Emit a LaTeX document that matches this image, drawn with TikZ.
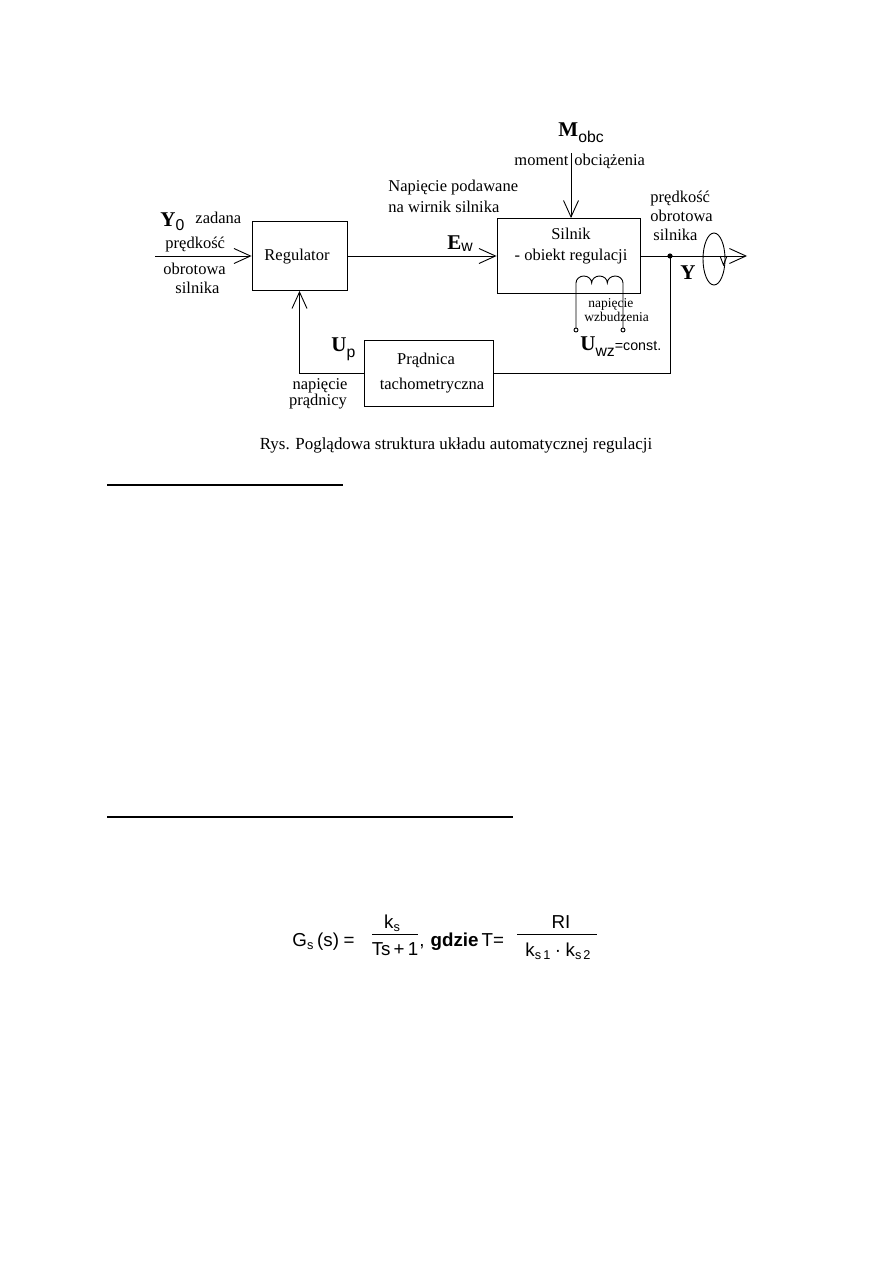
\documentclass[tikz,border=0pt]{standalone}
\usepackage{fontspec}
\setmainfont{Liberation Serif}
\setsansfont{Liberation Sans}
\usetikzlibrary{arrows.meta}
\newcommand{\subsc}[2][2.5pt]{\raisebox{-#1}{\sffamily\mdseries\fontsize{10.5}{10.5}\selectfont #2}}
\newcommand{\fsub}[2][2.5pt]{\raisebox{-#1}{\fontsize{8.5}{8.5}\selectfont #2}}
\begin{document}
\begin{tikzpicture}[x=0.66667pt,y=-0.66667pt,line width=0.6pt,
  arr/.style={-{Straight Barb[length=11pt,width=10pt]}},
  box/.style={draw,inner sep=0pt},
  lbl/.style={inner sep=0pt,font=\fontsize{11}{13}\selectfont},
  sml/.style={inner sep=0pt,font=\fontsize{9}{11}\selectfont},
  sym/.style={inner sep=0pt,font=\bfseries\fontsize{14}{16}\selectfont},
  frm/.style={inner sep=0pt,font=\sffamily\fontsize{12.5}{14}\selectfont}]
\useasboundingbox (0,0) rectangle (893,1263);
\fill[white] (0,0) rectangle (893,1263);

% blocks
\node[box,minimum width=63.33pt,minimum height=46pt] (reg) at (299.5,256) {};
\node[lbl,anchor=base] (regt) at (297,260) {Regulator};
\node[box,minimum width=95.33pt,minimum height=50pt] (sil) at (568.5,256) {};
\node[lbl,anchor=base] (silt1) at (571,239) {Silnik};
\node[lbl,anchor=base] (silt2) at (571,260) {- obiekt regulacji};
\node[box,minimum width=86pt,minimum height=44pt] (pr) at (428.5,373.5) {};
\node[lbl,anchor=base] (prt1) at (426,364) {Prądnica};
\node[lbl,anchor=base] (prt2) at (432,389) {tachometryczna};

% connectors
\coordinate (in) at (155,256);
\coordinate (j) at (670,256);
\coordinate (out) at (747,256);
\coordinate (fb) at (670,373.5);
\coordinate (ld) at (571,153);
\draw[arr] (in) -- (reg.west);
\draw[arr] (reg.east) -- (sil.west);
\draw (sil.east) -- (j);
\draw[arr] (j) -- (out);
\fill (j) circle[radius=2.6];
\draw (j) -- (fb) -- (pr.east);
\draw[arr] (pr.west) -| (reg.south);
\draw[arr] (ld) -- (ld |- sil.north);

% coil
\draw (576,328) -- (576,283)
  arc[start angle=180,end angle=360,x radius=7.833,y radius=7]
  arc[start angle=180,end angle=360,x radius=7.833,y radius=7]
  arc[start angle=180,end angle=360,x radius=7.833,y radius=7]
  -- (623,328);
\draw[fill=white] (576,330) circle[radius=2];
\draw[fill=white] (623,330) circle[radius=2];

% rotation symbol
\draw (714,259) ellipse[x radius=11,y radius=26];
\draw (720,256) -- (723.5,265) -- (727,256);

% labels left
\node[sym,anchor=base west] (y0) at (160,226) {Y\subsc[3pt]{0}};
\node[lbl,anchor=base west] (zad) at (195,223) {zadana};
\node[lbl,anchor=base west] (pd1) at (165,248) {prędkość};
\node[lbl,anchor=base west] (ob1) at (163,274) {obrotowa};
\node[lbl,anchor=base west] (sn1) at (175,293) {silnika};

% labels top
\node[lbl,anchor=base west] (np1) at (388,191) {Napięcie podawane};
\node[lbl,anchor=base west] (np2) at (388,212) {na wirnik silnika};
\node[sym,anchor=base west] (ew) at (447,249) {E\subsc[1.5pt]{w}};
\node[sym,anchor=base west] (mo) at (558,136) {M\subsc[4.5pt]{obc}};
\node[lbl,anchor=base east] (mom) at (569,165) {moment};
\node[lbl,anchor=base west] (obc) at (574,165) {obciążenia};

% labels right
\node[lbl,anchor=base west] (pd2) at (650,202) {prędkość};
\node[lbl,anchor=base west] (ob2) at (650,221) {obrotowa};
\node[lbl,anchor=base west] (sn2) at (653,240) {silnika};
\node[sym,anchor=base] (yy) at (688,279) {Y};
\node[sml,anchor=base west] (wz1) at (588,307) {napięcie};
\node[sml,anchor=base west] (wz2) at (584,321) {wzbudzenia};
\node[sym,anchor=base west] (uwz) at (580,350) {U\subsc[4pt]{wz}{\sffamily\mdseries\fontsize{9.5}{10}\selectfont =const.}};

% labels bottom
\node[sym,anchor=base west] (up) at (331,351) {U\subsc[4pt]{p}};
\node[lbl,anchor=base] (npp1) at (320,389) {napięcie};
\node[lbl,anchor=base] (npp2) at (318,405) {prądnicy};

% caption
\node[lbl,anchor=base,font=\fontsize{11.3}{13}\selectfont] (cap) at (456,449) {Rys. Poglądowa struktura układu automatycznej regulacji};

% rules
\draw[line width=1pt] (107,485) -- (343,485);
\draw[line width=1pt] (107,817) -- (513,817);

% formula
\node[frm,anchor=base west] (gs) at (292,946) {G\fsub{s}\hspace{2.5pt}(s)\hspace{3pt}=};
\node[frm,anchor=base] (num1) at (392,928) {k\fsub{s}};
\draw (372,934) -- (418,934);
\node[frm,anchor=base] (den1) at (395,955) {Ts\,+\,1};
\node[frm,anchor=base west] (gdz) at (419,946) {,\hspace{4pt}\textbf{gdzie}\hspace{2pt}T=};
\node[frm,anchor=base] (num2) at (561,928) {RI};
\draw (517,934) -- (597,934);
\node[frm,anchor=base] (den2) at (558,956) {k\fsub{s\,1}\hspace{3pt}·\hspace{3pt}k\fsub{s\,2}};
\end{tikzpicture}
\end{document}
